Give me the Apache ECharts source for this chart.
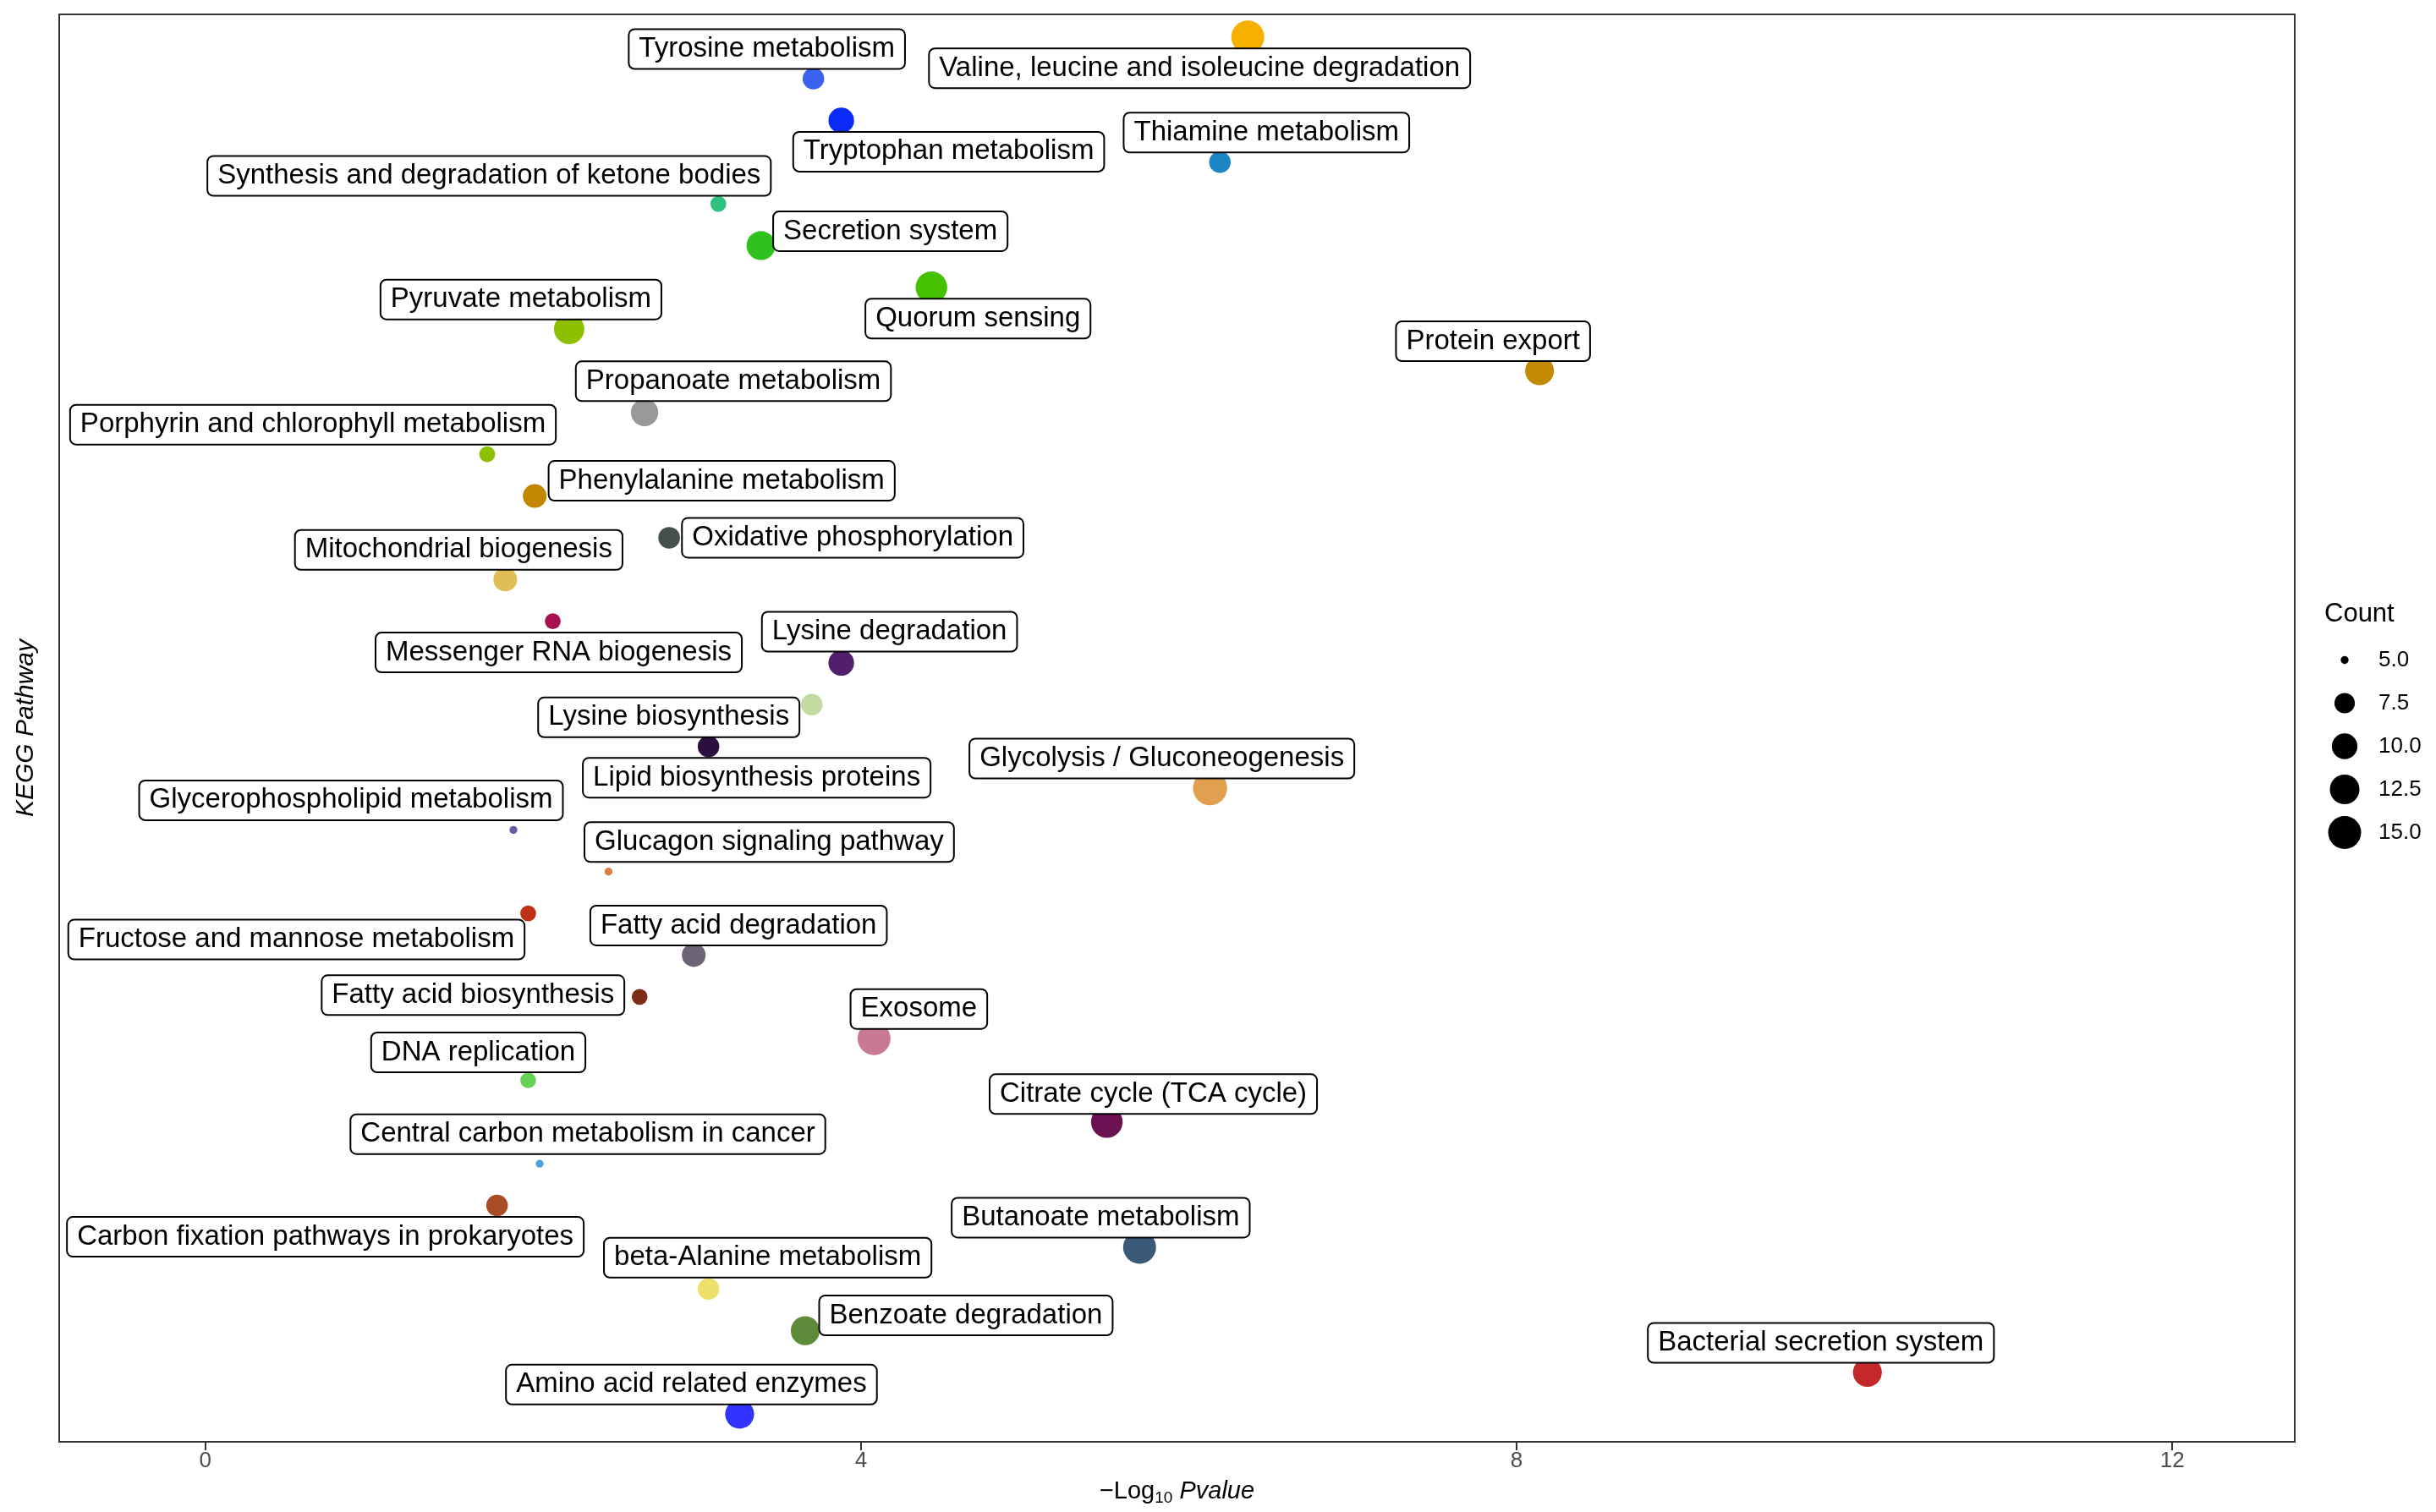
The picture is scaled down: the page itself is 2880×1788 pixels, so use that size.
<!DOCTYPE html>
<html><head><meta charset="utf-8">
<script src="https://cdn.jsdelivr.net/npm/echarts@6/dist/echarts.min.js"></script>
<style>html,body{margin:0;padding:0;background:#fff}#c{width:2880px;height:1788px}</style>
</head><body><div id="c"></div>
<script>
// KEGG pathways (bottom to top, alphabetical as in the source plot)
const categories = [
  'Amino acid related enzymes','Bacterial secretion system','Benzoate degradation','beta-Alanine metabolism',
  'Butanoate metabolism','Carbon fixation pathways in prokaryotes','Central carbon metabolism in cancer',
  'Citrate cycle (TCA cycle)','DNA replication','Exosome','Fatty acid biosynthesis','Fatty acid degradation',
  'Fructose and mannose metabolism','Glucagon signaling pathway','Glycerophospholipid metabolism',
  'Glycolysis / Gluconeogenesis','Lipid biosynthesis proteins','Lysine biosynthesis','Lysine degradation',
  'Messenger RNA biogenesis','Mitochondrial biogenesis','Oxidative phosphorylation','Phenylalanine metabolism',
  'Porphyrin and chlorophyll metabolism','Propanoate metabolism','Protein export','Pyruvate metabolism',
  'Quorum sensing','Secretion system','Synthesis and degradation of ketone bodies','Thiamine metabolism',
  'Tryptophan metabolism','Tyrosine metabolism','Valine, leucine and isoleucine degradation'
];
// -log10 Pvalue
const negLogP = [
  3.26, 10.14, 3.66, 3.07,
  5.70, 1.78, 2.04,
  5.50, 1.97, 4.08, 2.65, 2.98,
  1.97, 2.46, 1.88,
  6.13, 3.07, 3.70, 3.88,
  2.12, 1.83, 2.83, 2.01,
  1.72, 2.68, 8.14, 2.22,
  4.43, 3.39, 3.13, 6.19,
  3.88, 3.71, 6.36
];
// gene counts
const counts = [
  12, 12, 12, 8,
  15, 8, 5,
  14, 6, 15, 6, 9,
  6, 5, 5,
  16, 8, 8, 10,
  6, 9, 8, 9,
  6, 11, 12, 13,
  14, 12, 6, 8,
  10, 8, 15
];
const pointColors = [
  '#3333FF','#C42828','#5F8A3A','#EDE06A',
  '#3A5A78','#A84C26','#4AA3DF',
  '#6B1050','#66D155','#C87A92','#7D2E14','#6E6478',
  '#C03018','#D98048','#6A5AA0',
  '#E0A050','#2A0F3F','#C2DBA0','#521F6B',
  '#A6104E','#E0BE55','#45504A','#C28600',
  '#8CC000','#999999','#C28A00','#8DC000',
  '#44C200','#2FC21F','#2EC27E','#1C86C4',
  '#0A2BF5','#3B63F0','#F5B000'
];
const xTicks = [0, 4, 8, 12];
const sizeBreaks = [5, 7.5, 10, 12.5, 15];
const sizeBreakLabels = ['5.0', '7.5', '10.0', '12.5', '15.0'];

// label placement (repel layout), pixel offsets from each point
const labelOffsets = [
  [-57,-35],[-55,-35],[190,-18],[70,-37],
  [-46,-35],[-203,37],[57,-35],
  [55,-33],[-59,-33],[53,-35],[-197,-2],[53,-35],
  [-274,31],[190,-35],[-192,-35],
  [-57,-35],[57,37],[-169,15],[57,-37],
  [7,37],[-55,-35],[217,0],[221,-18],
  [-206,-35],[105,-37],[-55,-35],[-57,-35],
  [55,37],[153,-17],[-271,-33],[55,-35],
  [127,37],[-55,-35],[-57,37]
];

const FONT = '"Liberation Sans", Arial, Helvetica, sans-serif';
function sizeOf(c) { return 6.22 * (1.5 + 5 * Math.sqrt(Math.max(0, (c - 5) / 11))); }

const data = categories.map((cat, i) => ({
  value: [negLogP[i], cat, counts[i]],
  itemStyle: { color: pointColors[i], opacity: 1 }
}));

const X_MIN = -0.891, X_MAX = 12.747;

const chart = echarts.init(document.getElementById('c'), null, { renderer: 'canvas' });
chart.setOption({
  backgroundColor: '#ffffff',
  animation: false,
  textStyle: { fontFamily: FONT },
  grid: [
    { left: 70, right: 167, top: 17, bottom: 83, show: true, borderColor: '#333333', borderWidth: 2, backgroundColor: 'transparent' },
    { left: 70, right: 167, top: 19, bottom: 91 },
    { left: 2752, width: 40, top: 755, height: 255 }
  ],
  xAxis: [
    {
      gridIndex: 0, type: 'value', min: X_MIN, max: X_MAX,
      axisLine: { show: true, lineStyle: { color: '#333333', width: 2 } },
      axisTick: { show: true, length: 10, lineStyle: { color: '#333333', width: 2 }, customValues: xTicks },
      axisLabel: { show: true, customValues: xTicks, fontSize: 26, color: '#4D4D4D', margin: 10, fontFamily: FONT },
      splitLine: { show: false },
      name: '−Log{sub|10} {it|Pvalue}',
      nameLocation: 'middle', nameGap: 42,
      nameTextStyle: {
        fontSize: 29, color: '#000', fontFamily: FONT, lineHeight: 34,
        rich: {
          sub: { fontSize: 19, lineHeight: 12, verticalAlign: 'bottom', fontFamily: FONT, color: '#000' },
          it: { fontSize: 29, fontStyle: 'italic', fontFamily: FONT, color: '#000' }
        }
      }
    },
    { gridIndex: 1, type: 'value', min: X_MIN, max: X_MAX, show: false, splitLine: { show: false } },
    { gridIndex: 2, type: 'value', min: 0, max: 1, show: false, splitLine: { show: false } }
  ],
  yAxis: [
    {
      gridIndex: 0, type: 'value', min: 0, max: 1,
      axisLine: { show: false }, axisTick: { show: false }, axisLabel: { show: false }, splitLine: { show: false },
      name: 'KEGG Pathway', nameLocation: 'middle', nameGap: 24, nameRotate: 90,
      nameTextStyle: { fontSize: 30, fontStyle: 'italic', color: '#000', fontFamily: FONT }
    },
    {
      gridIndex: 1, type: 'category', data: categories, boundaryGap: true,
      axisLine: { show: false }, axisTick: { show: false }, axisLabel: { show: false }, splitLine: { show: false }
    },
    {
      gridIndex: 2, type: 'category', data: sizeBreakLabels, inverse: true, position: 'right', boundaryGap: true,
      axisLine: { show: false }, axisTick: { show: false }, splitLine: { show: false },
      axisLabel: { show: true, fontSize: 26, color: '#000', margin: 20, fontFamily: FONT, align: 'left' }
    }
  ],
  graphic: [
    { type: 'text', left: 2748, top: 711, style: { text: 'Count', fontSize: 31, fill: '#000', fontFamily: FONT } }
  ],
  series: [
    {
      type: 'scatter', xAxisIndex: 1, yAxisIndex: 1,
      symbol: 'circle',
      symbolSize: (val) => sizeOf(val[2]),
      itemStyle: { opacity: 1 },
      data: data,
      label: {
        show: true, position: 'inside',
        formatter: (p) => p.value[1],
        fontSize: 33, color: '#000', fontFamily: FONT, opacity: 1,
        backgroundColor: '#ffffff', borderColor: '#000000', borderWidth: 2, borderRadius: 6,
        padding: [5, 11, 5, 11], lineHeight: 35
      },
      labelLayout: (params) => ({
        dx: labelOffsets[params.dataIndex][0],
        dy: labelOffsets[params.dataIndex][1],
        hideOverlap: false
      }),
      emphasis: { disabled: true },
      z: 3
    },
    {
      type: 'scatter', xAxisIndex: 2, yAxisIndex: 2,
      symbol: 'circle',
      symbolSize: (val) => sizeOf(val[2]),
      itemStyle: { color: '#000', opacity: 1 },
      data: sizeBreaks.map((b, i) => [0.5, sizeBreakLabels[i], b]),
      emphasis: { disabled: true }
    }
  ]
});
</script>
</body></html>
